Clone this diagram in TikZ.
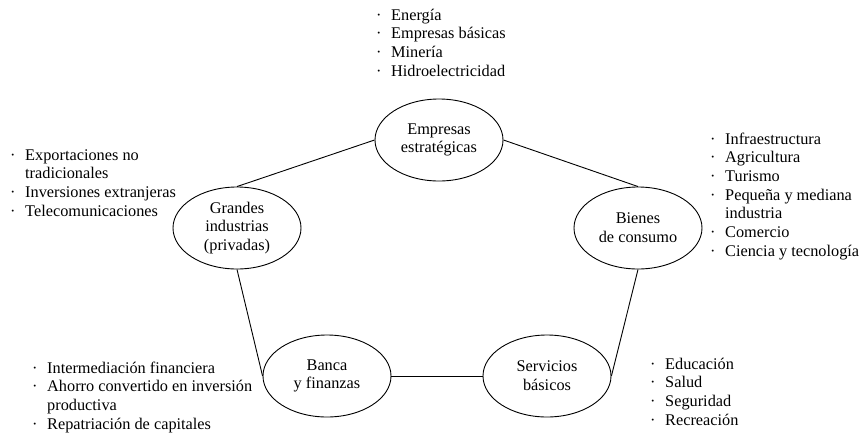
\documentclass[tikz,border=0pt]{standalone}
\usepackage{fontspec}
\setmainfont{Liberation Serif}
\usetikzlibrary{shapes.geometric}
\newcommand\bul{\makebox[15pt][l]{·}}
\newcommand\ind{\hspace*{15pt}}
\tikzset{
  ell/.style={ellipse, draw, line width=0.9pt, minimum width=128pt, minimum height=82pt,
    inner sep=0pt, align=center, font=\fontsize{16.3}{18.7}\selectfont},
  lst/.style={anchor=base west, inner sep=0pt, font=\fontsize{16.3}{18.7}\selectfont},
  conn/.style={line width=0.9pt}
}
\begin{document}
\begin{tikzpicture}[x=1pt,y=-1pt]
\useasboundingbox (0,0) rectangle (865,437);
\node[ell] (E)  at (439,140) {Empresas\\estratégicas};
\node[ell] (G)  at (237,228) {Grandes\\industrias\\(privadas)};
\node[ell] (B)  at (638,228) {Bienes\\de consumo};
\node[ell] (Ba) at (327,376) {Banca\\y finanzas};
\node[ell] (S)  at (547,376) {Servicios\\básicos};
\draw[conn] (E.west) -- (G.north);
\draw[conn] (E.east) -- (B.north);
\draw[conn] (G.south) -- (Ba.west);
\draw[conn] (Ba.east) -- (S.west);
\draw[conn] (B.south) -- (S.east);
\node[lst] (LE) at (376,20) {\begin{tabular}[t]{@{}l@{}}\bul Energía\\ \bul Empresas básicas\\ \bul Minería\\ \bul Hidroelectricidad\end{tabular}};
\node[lst] (LG) at (10,160) {\begin{tabular}[t]{@{}l@{}}\bul Exportaciones no\\ \ind tradicionales\\ \bul Inversiones extranjeras\\ \bul Telecomunicaciones\end{tabular}};
\node[lst] (LB) at (710,144) {\begin{tabular}[t]{@{}l@{}}\bul Infraestructura\\ \bul Agricultura\\ \bul Turismo\\ \bul Pequeña y mediana\\ \ind industria\\ \bul Comercio\\ \bul Ciencia y tecnología\end{tabular}};
\node[lst] (LBa) at (32,373) {\begin{tabular}[t]{@{}l@{}}\bul Intermediación financiera\\ \bul Ahorro convertido en inversión\\ \ind productiva\\ \bul Repatriación de capitales\end{tabular}};
\node[lst] (LS) at (650,369) {\begin{tabular}[t]{@{}l@{}}\bul Educación\\ \bul Salud\\ \bul Seguridad\\ \bul Recreación\end{tabular}};
\end{tikzpicture}
\end{document}
